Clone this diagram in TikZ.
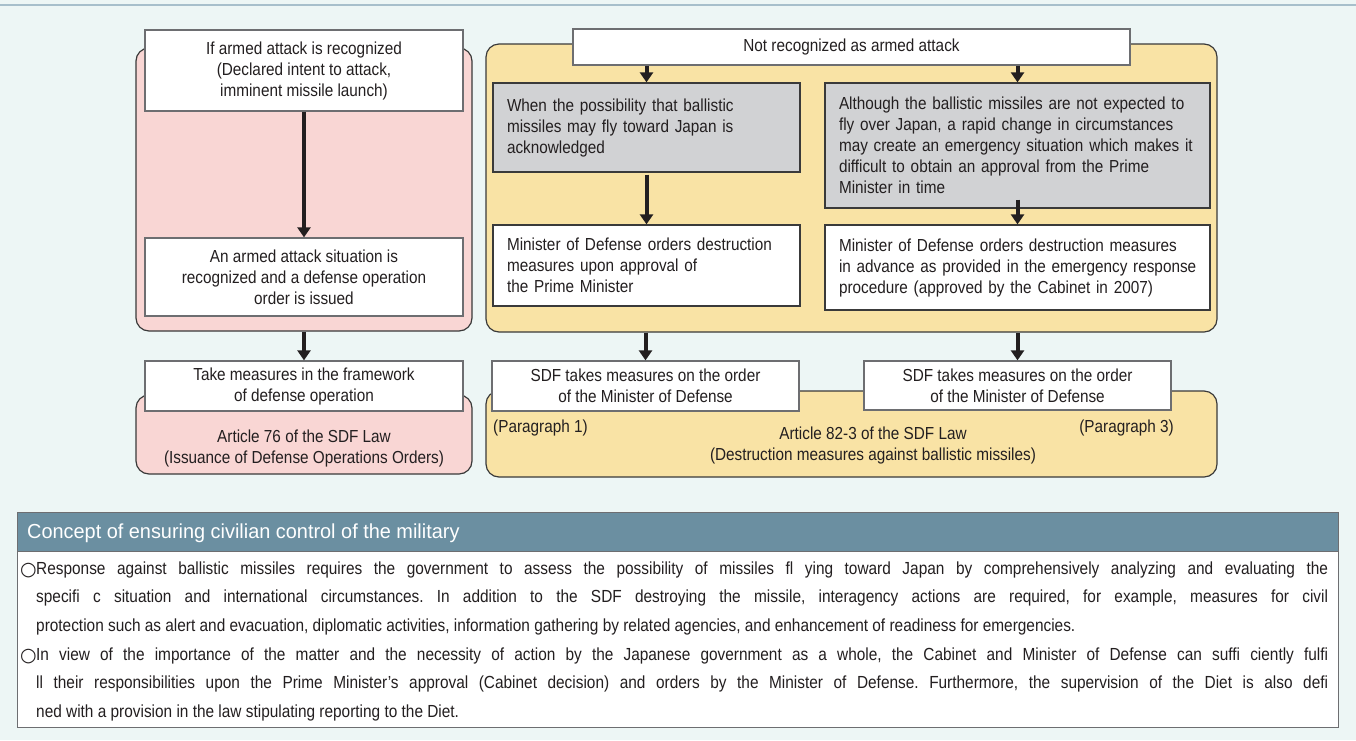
\documentclass[tikz,border=0pt]{standalone}
\usepackage{fontspec}
\setmainfont{Liberation Sans}[FakeStretch=0.88]
\newfontfamily\symfont{DejaVu Sans}
\newfontfamily\hdrfont{Liberation Sans}[FakeStretch=0.98]
\usetikzlibrary{arrows.meta}
\definecolor{bg}{HTML}{EDF6F5}
\definecolor{topline}{HTML}{A7BFCB}
\definecolor{pinkf}{HTML}{F9D6D4}
\definecolor{yelf}{HTML}{F9E3A5}
\definecolor{grayf}{HTML}{D1D2D4}
\definecolor{hdr}{HTML}{6B8FA1}
\definecolor{ink}{HTML}{231F20}
\definecolor{edge}{HTML}{3A3A3A}
\definecolor{wedge}{HTML}{6D6E71}
\newcommand{\nb}[1]{\mbox{#1}}
\newcommand{\circmark}{\makebox[16pt][l]{\raisebox{-1pt}{\symfont\fontsize{19}{19}\selectfont ○}}}
\tikzset{
  boxfont/.style={font=\fontsize{17.4}{21}\selectfont, text=ink},
  wbox/.style={boxfont, draw=wedge, line width=1.3pt, fill=white, inner sep=0pt, align=center},
  wlbox/.style={boxfont, draw=edge, line width=1.3pt, fill=white, inner sep=0pt, align=left},
  gbox/.style={boxfont, draw=edge, line width=1.3pt, fill=grayf, inner sep=0pt, align=left},
  region/.style={draw=edge, line width=1.2pt, rounded corners=13pt, inner sep=0pt},
  lbl/.style={boxfont, inner sep=0pt, align=center},
  arr/.style={draw=ink, line width=4pt, -{Triangle[width=13pt,length=10pt]}},
}
\begin{document}
\begin{tikzpicture}[x=1pt,y=-1pt]
\useasboundingbox (0,0) rectangle (1356,740);
\fill[bg] (0,0) rectangle (1356,740);
\draw[topline, line width=2pt] (0,5) -- (1356,5);

% regions
\node[region, fill=pinkf, minimum width=336, minimum height=283] (pinkU) at (304,189.5) {};
\node[region, fill=pinkf, minimum width=336, minimum height=79] (pinkL) at (304,434.5) {};
\node[region, fill=yelf, minimum width=731, minimum height=288] (yelU) at (851.5,188) {};
\node[region, fill=yelf, minimum width=731, minimum height=86] (yelL) at (851.5,434) {};

% left column
\node[wbox, minimum width=318, minimum height=81] (A) at (304,70.5)
  {If armed attack is recognized\\(Declared intent to attack,\\imminent missile launch)};
\node[wbox, minimum width=318, minimum height=78] (B) at (304,277)
  {An armed attack situation is\\recognized and a defense operation\\order is issued};
\node[wbox, minimum width=318, minimum height=50] (C) at (304,386)
  {Take measures in the framework\\of defense operation};
\node[lbl] (art76) at (304,448)
  {Article 76 of the SDF Law\\(Issuance of Defense Operations Orders)};

% right side
\node[wbox, minimum width=557, minimum height=36] (NR) at (851.5,47)
  {Not recognized as armed attack};
\node[gbox, minimum width=307, minimum height=89, text width=279] (G1) at (646.5,127.5)
  {\nb{When the possibility that ballistic}\\\nb{missiles may fly toward Japan is}\\\nb{acknowledged}};
\node[gbox, minimum width=385, minimum height=125, text width=357] (G2) at (1017.5,145.5)
  {\nb{Although the ballistic missiles are not expected to}\\\nb{fly over Japan, a rapid change in circumstances}\\\nb{may create an emergency situation which makes it}\\\nb{difficult to obtain an approval from the Prime}\\\nb{Minister in time}};
\node[wlbox, minimum width=307, minimum height=81, text width=279] (W1) at (646.5,265.5)
  {\nb{Minister of Defense orders destruction}\\\nb{measures upon approval of}\\\nb{the Prime Minister}};
\node[wlbox, minimum width=385, minimum height=85, text width=357] (W2) at (1017.5,267.5)
  {\nb{Minister of Defense orders destruction measures}\\\nb{in advance as provided in the emergency response}\\\nb{procedure (approved by the Cabinet in 2007)}};
\node[wbox, minimum width=307, minimum height=50] (S1) at (645.5,386)
  {SDF takes measures on the order\\of the Minister of Defense};
\node[wbox, minimum width=307, minimum height=49] (S2) at (1017.5,385.5)
  {SDF takes measures on the order\\of the Minister of Defense};
\node[lbl] (art82) at (873,445.5)
  {Article 82-3 of the SDF Law\\(Destruction measures against ballistic missiles)};
\node[lbl, anchor=west] (par1) at (493,428) {(Paragraph 1)};
\node[lbl, anchor=east] (par3) at (1174,428) {(Paragraph 3)};

% arrows
\draw[arr] (A.south) -- (B.north);
\draw[arr] (pinkU.south) -- (C.north);
\draw[arr] (NR.south -| G1.north) -- (G1.north);
\draw[arr] (NR.south -| G2.north) -- (G2.north);
\draw[arr] ([yshift=-2pt]G1.south) -- (W1.north);
\draw[arr] ([yshift=9pt]G2.south) -- (W2.north);
\draw[arr] (yelU.south -| S1.north) -- (S1.north);
\draw[arr] (yelU.south -| S2.north) -- (S2.north);

% bottom panel
\node[draw=wedge, line width=1pt, fill=white, minimum width=1321, minimum height=215, inner sep=0pt] (panel) at (677.5,619.5) {};
\node[draw=wedge, line width=1pt, fill=hdr, minimum width=1321, minimum height=39, inner sep=0pt] (hdr) at (677.5,531.5) {};
\node[anchor=west, inner sep=0pt, text=white, font=\hdrfont\fontsize{20.3}{22}\selectfont] (hdrtxt) at (27,533)
  {Concept of ensuring civilian control of the military};
\node[anchor=north west, inner sep=0pt, text=ink, align=left, font=\fontsize{17.5}{28.6}\selectfont\frenchspacing] (body) at (20,561)
  {\rule{0pt}{13pt}\circmark\makebox[1292pt][s]{Response against ballistic missiles requires the government to assess the possibility of missiles fl ying toward Japan by comprehensively analyzing and evaluating the}\\
   \hspace*{16pt}\makebox[1292pt][s]{specifi c situation and international circumstances. In addition to the SDF destroying the missile, interagency actions are required, for example, measures for civil}\\
   \hspace*{16pt}\makebox[1292pt][l]{protection such as alert and evacuation, diplomatic activities, information gathering by related agencies, and enhancement of readiness for emergencies.}\\
   \circmark\makebox[1292pt][s]{In view of the importance of the matter and the necessity of action by the Japanese government as a whole, the Cabinet and Minister of Defense can suffi ciently fulfi}\\
   \hspace*{16pt}\makebox[1292pt][s]{ll their responsibilities upon the Prime Minister’s approval (Cabinet decision) and orders by the Minister of Defense. Furthermore, the supervision of the Diet is also defi}\\
   \hspace*{16pt}\makebox[1292pt][l]{ned with a provision in the law stipulating reporting to the Diet.}};
\end{tikzpicture}
\end{document}
